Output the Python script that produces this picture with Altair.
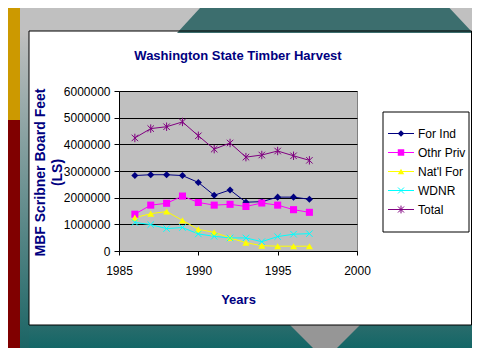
import altair as alt
import pandas as pd

# ---------------- data ----------------
years = [1986, 1987, 1988, 1989, 1990, 1991, 1992, 1993, 1994, 1995, 1996, 1997]
for_ind = [2830000, 2860000, 2860000, 2830000, 2570000, 2090000, 2290000, 1830000, 1850000, 2020000, 2020000, 1940000]
othr_priv = [1380000, 1720000, 1790000, 2060000, 1820000, 1720000, 1750000, 1670000, 1800000, 1720000, 1550000, 1450000]
natl_for = [1250000, 1400000, 1480000, 1150000, 810000, 700000, 490000, 310000, 200000, 180000, 180000, 180000]
wdnr = [1070000, 990000, 840000, 880000, 640000, 550000, 490000, 490000, 350000, 540000, 630000, 650000]
total = [4240000, 4590000, 4660000, 4840000, 4320000, 3820000, 4050000, 3520000, 3600000, 3750000, 3570000, 3400000]

series_names = ["For Ind", "Othr Priv", "Nat'l For", "WDNR", "Total"]
series_colors = ["#000080", "#ff00ff", "#ffff00", "#00ffff", "#800080"]
x_ticks = [1985, 1990, 1995, 2000]
y_ticks = [0, 1000000, 2000000, 3000000, 4000000, 5000000, 6000000]

FONT = "Liberation Sans"
NAVY = "#000080"
X_PATH = "M-1,-1L1,1M-1,1L1,-1"
STAR_PATH = "M-1,-1L1,1M-1,1L1,-1M0,-1.3L0,1.3"
series_shapes = ["diamond", "square", "triangle-up", X_PATH, STAR_PATH]

records = []
for name, vals in zip(series_names, [for_ind, othr_priv, natl_for, wdnr, total]):
    for yr, v in zip(years, vals):
        records.append({"Year": yr, "Value": v, "Series": name})
df = pd.DataFrame(records)
legend_df = pd.DataFrame({"Series": series_names})
one = pd.DataFrame({"k": [0]})

color_enc = alt.Color("Series:N", scale=alt.Scale(domain=series_names, range=series_colors), legend=None)
shape_enc = alt.Shape("Series:N", scale=alt.Scale(domain=series_names, range=series_shapes), legend=None)
filled_pred = alt.FieldOneOfPredicate(field="Series", oneOf=series_names[:3])
open_pred = alt.FieldOneOfPredicate(field="Series", oneOf=series_names[3:])

x_enc = alt.X("Year:Q", scale=alt.Scale(domain=[1985, 2000], nice=False, zero=False),
              axis=alt.Axis(values=x_ticks, format="d", title="Years", grid=False,
                            tickSize=4, tickColor="black", domainColor="black",
                            labelPadding=10, labelFont=FONT, labelFontSize=12, labelColor="black",
                            labelFlush=False,
                            titleFont=FONT, titleFontSize=13, titleFontWeight="bold", titleColor=NAVY,
                            titleBaseline="alphabetic", titleY=52))
y_enc = alt.Y("Value:Q", scale=alt.Scale(domain=[0, 6000000], nice=False),
              axis=alt.Axis(values=y_ticks, format="d", title=["MBF Scribner Board Feet", "(LS)"],
                            grid=True, gridColor="black", gridWidth=1, gridOpacity=1,
                            tickSize=5, tickColor="black", domainColor="black",
                            labelPadding=4, labelFont=FONT, labelFontSize=12, labelColor="black",
                            titleFont=FONT, titleFontSize=14, titleFontWeight="bold", titleColor=NAVY,
                            titleAngle=270, titleBaseline="top", titleAlign="center",
                            titleX=-86, titleY=81, titleLineHeight=17))

# ---------------- plot ----------------
base = alt.Chart(df).encode(x=x_enc, y=y_enc, color=color_enc)
lines = base.mark_line(strokeWidth=1)
pts_filled = base.transform_filter(filled_pred).mark_point(filled=True, opacity=1, size=50).encode(shape=shape_enc)
pts_open = base.transform_filter(open_pred).mark_point(filled=False, opacity=1, size=42, strokeWidth=1).encode(shape=shape_enc)
plot = alt.layer(lines, pts_filled, pts_open)

# ---------------- legend ----------------
leg_y = alt.Y("Series:N", scale=alt.Scale(domain=series_names, range=[33, 128], padding=0), axis=None)
leg_base = alt.Chart(legend_df).encode(y=leg_y, color=color_enc)
leg_box = alt.Chart(one).mark_rect(fill="white", stroke="black", strokeWidth=1).encode(
    x=alt.value(264), x2=alt.value(350), y=alt.value(21), y2=alt.value(141))
leg_lines = leg_base.mark_rule(strokeWidth=1).encode(x=alt.value(269), x2=alt.value(295))
leg_pf = leg_base.transform_filter(filled_pred).mark_point(filled=True, opacity=1, size=42).encode(
    x=alt.value(282), shape=shape_enc)
leg_po = leg_base.transform_filter(open_pred).mark_point(filled=False, opacity=1, size=36, strokeWidth=1).encode(
    x=alt.value(282), shape=shape_enc)
leg_text = alt.Chart(legend_df).mark_text(align="left", baseline="middle", font=FONT, fontSize=12, color="black").encode(
    x=alt.value(299), y=leg_y, text="Series:N")
legend = alt.layer(leg_box, leg_lines, leg_pf, leg_po, leg_text)

# ---------------- slide decoration (outside the white panel) ----------------
def deco_rect(x, x2, y, y2, **kw):
    return alt.Chart(one).mark_rect(**kw).encode(
        x=alt.value(x), x2=alt.value(x2), y=alt.value(y), y2=alt.value(y2))

strip_grad = alt.LinearGradient(gradient="linear", x1=0, x2=0, y1=0, y2=1,
                                stops=[alt.GradientStop(color="#c0c0c0", offset=0),
                                       alt.GradientStop(color="#1a6464", offset=1)])
bottom_grad = alt.LinearGradient(gradient="linear", x1=0, x2=0, y1=0, y2=1,
                                 stops=[alt.GradientStop(color="#2a6c6c", offset=0),
                                        alt.GradientStop(color="#126666", offset=1)])

deco = alt.layer(
    deco_rect(-99, 361, -83, -60, fill="#c0c0c0"),
    alt.Chart(one).mark_point(shape="M-1.25,-0.23L1.245,-0.23L1.48,0.02L-1.48,0.02Z", size=40000,
                              filled=True, opacity=1, color="#3c6e6e").encode(x=alt.value(206), y=alt.value(-60)),
    deco_rect(-111, -99, -83, 29, fill="#cc9900"),
    deco_rect(-111, -99, 29, 258, fill="#800000"),
    deco_rect(-99, -90, -60, 258, fill=strip_grad),
    deco_rect(-90, 361, 234, 258, fill=bottom_grad),
    alt.Chart(one).mark_point(shape="M-1,0L1,0L0,1Z", size=4900, filled=True, opacity=1,
                              color="#969696").encode(x=alt.value(206), y=alt.value(234)),
    deco_rect(-90, 352.5, -60, 234, filled=False, stroke="black", strokeWidth=1),
)

chart = alt.layer(deco, plot, legend).resolve_scale(y="independent").properties(
    width=238, height=160,
    autosize=alt.AutoSizeParams(type="none"),
    padding={"left": 111, "top": 83, "right": 115, "bottom": 97},
    background="white",
    title=alt.Title("Washington State Timber Harvest", font=FONT, fontSize=13, fontWeight="bold",
                    color=NAVY, anchor="middle", frame="group", offset=0, baseline="alphabetic", dy=65),
).configure_view(fill="#c0c0c0", stroke="#808080", strokeWidth=1)

chart.save("out.html", embed_options={"renderer": "svg", "actions": False})
